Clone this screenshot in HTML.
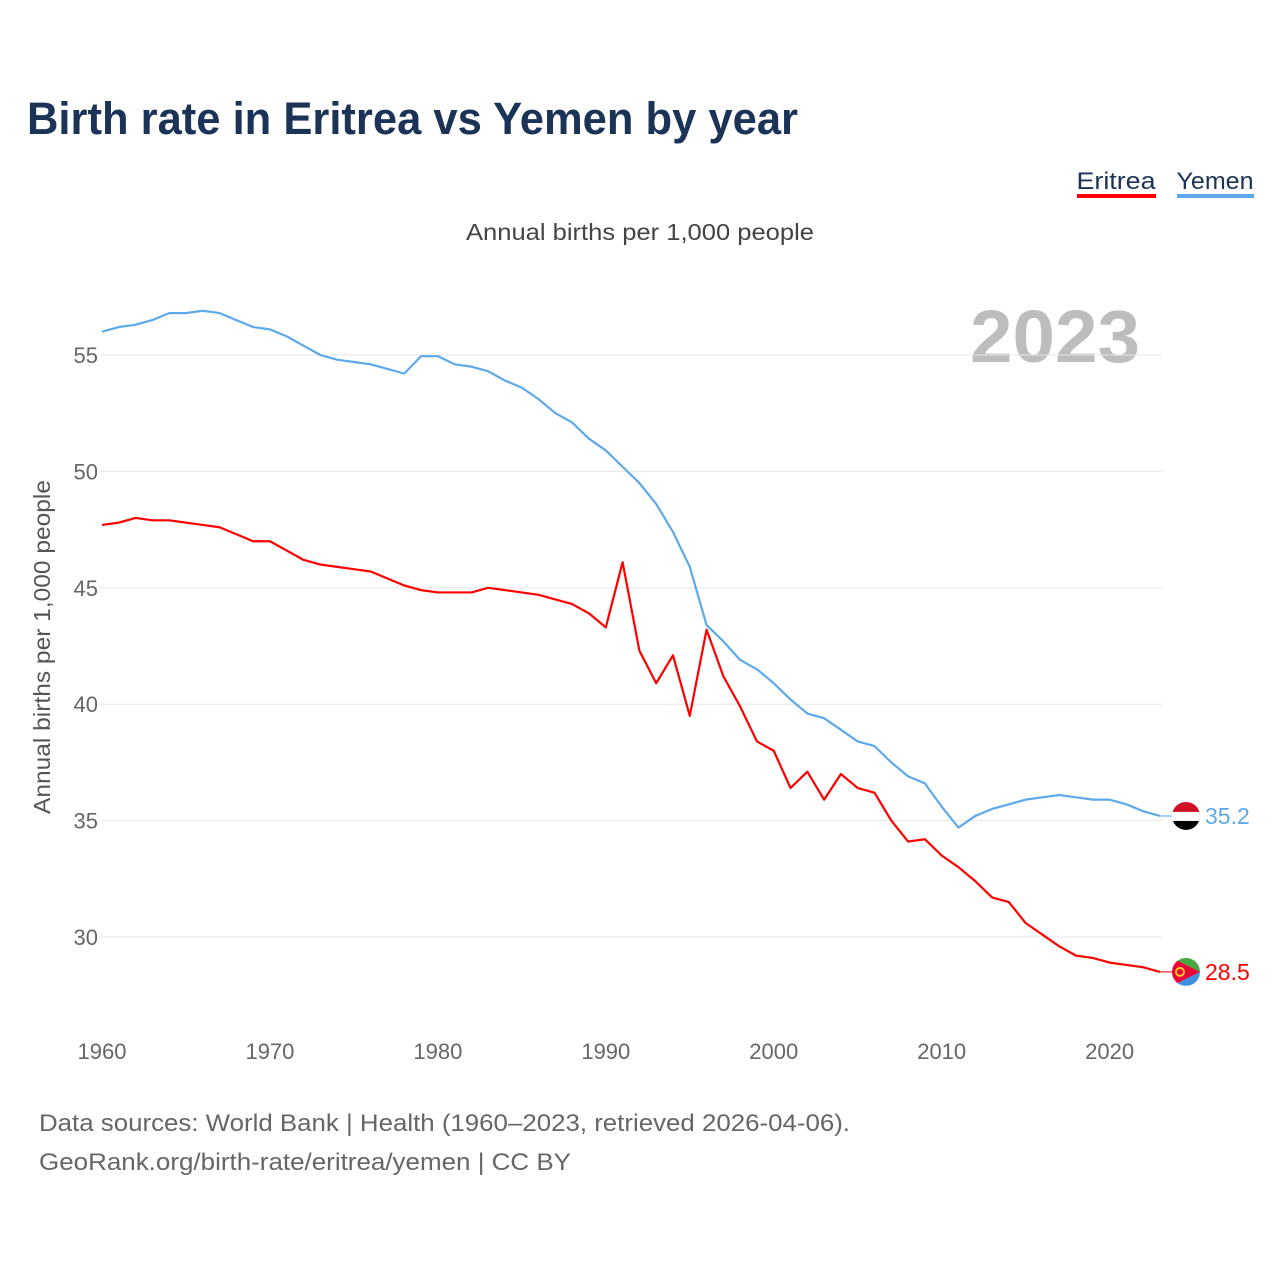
<!DOCTYPE html>
<html><head><meta charset="utf-8"><style>
body{margin:0;background:#fff;font-family:"Liberation Sans",sans-serif;}
#wrap{position:relative;width:1280px;height:1280px;overflow:hidden;}
</style></head><body>
<div id="wrap">
<svg id="svg" width="1280" height="1280">
<text x="27" y="134" font-size="45" font-weight="bold" fill="#1b3356" textLength="771" lengthAdjust="spacingAndGlyphs">Birth rate in Eritrea vs Yemen by year</text>
<g><text x="1116" y="189" font-size="24" fill="#1b3356" text-anchor="middle" textLength="79" lengthAdjust="spacingAndGlyphs">Eritrea</text><rect x="1077" y="194" width="79" height="4" fill="#ff0000"/></g>
<g><text x="1215" y="189" font-size="24" fill="#1b3356" text-anchor="middle" textLength="77" lengthAdjust="spacingAndGlyphs">Yemen</text><rect x="1177" y="194" width="77" height="4" fill="#5ea9ea"/></g>
<text x="466" y="240" font-size="23" fill="#444" textLength="348" lengthAdjust="spacingAndGlyphs">Annual births per 1,000 people</text>
<text x="970" y="362" font-size="74" font-weight="bold" fill="#bdbdbd" textLength="170" lengthAdjust="spacingAndGlyphs">2023</text>
<text transform="translate(50,647) rotate(-90)" font-size="23" fill="#555" text-anchor="middle" textLength="334" lengthAdjust="spacingAndGlyphs">Annual births per 1,000 people</text>
<g id="grid"></g><g id="series"></g>
<text x="39" y="1131" font-size="24" fill="#666" textLength="811" lengthAdjust="spacingAndGlyphs">Data sources: World Bank | Health (1960–2023, retrieved 2026-04-06).</text>
<text x="39" y="1170" font-size="24" fill="#666" textLength="532" lengthAdjust="spacingAndGlyphs">GeoRank.org/birth-rate/eritrea/yemen | CC BY</text>
</svg></div>
<script>
const years=[];for(let y=1960;y<=2023;y++)years.push(y);
const yemen=[56.0,56.2,56.3,56.5,56.8,56.8,56.9,56.8,56.5,56.2,56.1,55.8,55.4,55.0,54.8,54.7,54.6,54.4,54.2,54.95,54.95,54.6,54.5,54.3,53.9,53.6,53.1,52.5,52.1,51.4,50.9,50.2,49.5,48.6,47.4,45.9,43.4,42.7,41.9,41.5,40.9,40.2,39.6,39.4,38.9,38.4,38.2,37.5,36.9,36.6,35.6,34.7,35.2,35.5,35.7,35.9,36.0,36.1,36.0,35.9,35.9,35.7,35.4,35.2];
const eritrea=[47.7,47.8,48.0,47.9,47.9,47.8,47.7,47.6,47.3,47.0,47.0,46.6,46.2,46.0,45.9,45.8,45.7,45.4,45.1,44.9,44.8,44.8,44.8,45.0,44.9,44.8,44.7,44.5,44.3,43.9,43.3,46.1,42.3,40.9,42.1,39.5,43.2,41.2,39.9,38.4,38.0,36.4,37.1,35.9,37.0,36.4,36.2,35.0,34.1,34.2,33.5,33.0,32.4,31.7,31.5,30.6,30.1,29.6,29.2,29.1,28.9,28.8,28.7,28.5];
const yTicks=[30,35,40,45,50,55];
const xTicks=[1960,1970,1980,1990,2000,2010,2020];
const NS='http://www.w3.org/2000/svg';
const X=y=>102+(y-1960)*(1160-102)/63;
const Y=v=>355+(55-v)*(937-355)/25;
const grid=document.getElementById('grid'),ser=document.getElementById('series');
function mk(tag,at,par){const e=document.createElementNS(NS,tag);for(const k in at)e.setAttribute(k,at[k]);par.appendChild(e);return e;}
yTicks.forEach(t=>{
 const l=mk('line',{x1:100,x2:1162,y1:Y(t),y2:Y(t),stroke:'#e6e6e6','stroke-width':1},grid);
 
 
 const tx=mk('text',{x:98,y:Y(t)+8,'font-size':22,fill:'#666','text-anchor':'end'},grid);tx.textContent=t;
 
 
});
xTicks.forEach(t=>{
 const tx=mk('text',{x:X(t),y:1059,'font-size':22,fill:'#666','text-anchor':'middle'},grid);tx.textContent=t;
 
 
});
function line(vals,col,name){
 const p=mk('polyline',{points:vals.map((v,i)=>X(years[i])+','+Y(v)).join(' '),fill:'none',stroke:col,'stroke-width':2.2,'stroke-linejoin':'round'},ser);
 
 
}
line(yemen,'#5ea9ea','yemen');line(eritrea,'#ff0000','eritrea');
function endLabel(vals,col,name,flag){
 const v=vals[vals.length-1],cy=Y(v),cx=1186;
 const g=mk('g',{},ser);
 
 
 mk('line',{x1:X(2023),x2:cx,y1:cy,y2:cy,stroke:col,'stroke-width':1},g);
 const id='c'+name;const cp=mk('clipPath',{id:id},g);mk('circle',{cx:cx,cy:cy,r:14},cp);
 const fg=mk('g',{'clip-path':'url(#'+id+')'},g);
 if(flag==='ye'){mk('rect',{x:cx-14,y:cy-14,width:28,height:10,fill:'#ce1126'},fg);mk('rect',{x:cx-14,y:cy-4,width:28,height:9,fill:'#fff'},fg);mk('rect',{x:cx-14,y:cy+5,width:28,height:10,fill:'#000'},fg);}
 else{mk('polygon',{points:`${cx-14},${cy-14} ${cx+14},${cy-14} ${cx+14},${cy}`,fill:'#4aa842'},fg);mk('polygon',{points:`${cx-14},${cy+14} ${cx+14},${cy+14} ${cx+14},${cy}`,fill:'#3d8fe0'},fg);mk('polygon',{points:`${cx-14},${cy-14} ${cx+14},${cy} ${cx-14},${cy+14}`,fill:'#ea0437'},fg);mk('circle',{cx:cx-6,cy:cy,r:4,fill:'none',stroke:'#ffc726','stroke-width':2},fg);}
 const t=mk('text',{x:1205,y:cy+8,'font-size':23,fill:col},g);t.textContent=v.toFixed(1);
}
endLabel(yemen,'#5ea9ea','yemen','ye');endLabel(eritrea,'#ff0000','eritrea','er');
</script></body></html>
